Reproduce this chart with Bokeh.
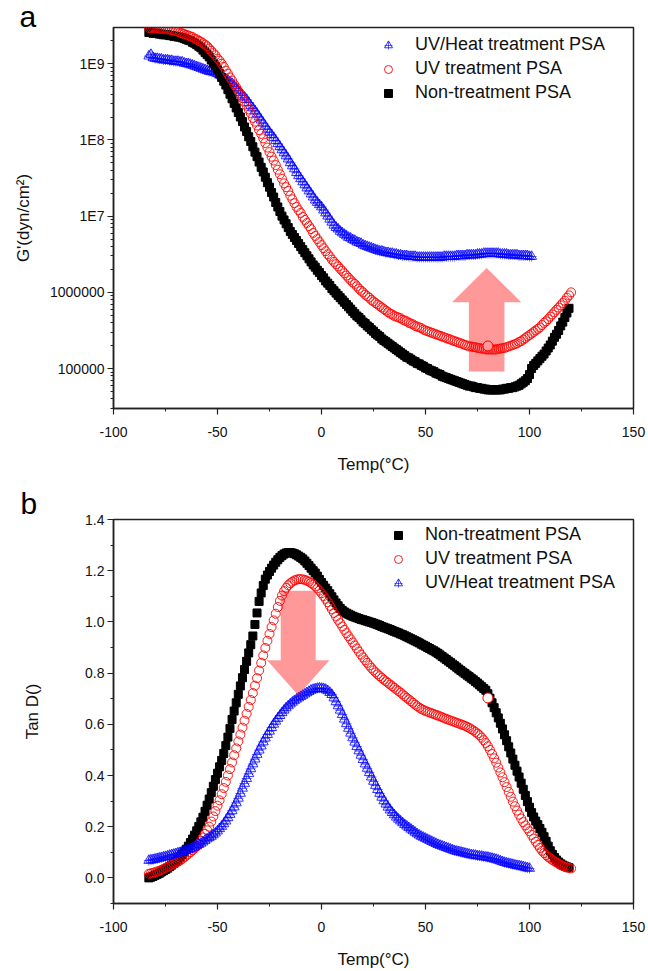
from bokeh.plotting import figure
from bokeh.layouts import column
from bokeh.models import (FixedTicker, Range1d, Legend, LegendItem,
                          NumeralTickFormatter)
from bokeh.embed import file_html
from bokeh.resources import INLINE

FONT = "Liberation Sans"

# ---------------- data: storage modulus G' (dyn/cm^2) ----------------
temp_black = list(range(-83, 120))
temp_red = list(range(-83, 121))
temp_blue_g = list(range(-83, 102))
temp_blue_tan = list(range(-83, 101))

gp_non = [
    2.57e9, 2.57e9, 2.51e9, 2.51e9, 2.51e9, 2.45e9, 2.45e9, 2.40e9, 2.40e9, 2.40e9,
    2.34e9, 2.34e9, 2.29e9, 2.29e9, 2.24e9, 2.24e9, 2.19e9, 2.14e9, 2.09e9, 2.04e9,
    2.00e9, 1.91e9, 1.86e9, 1.78e9, 1.70e9, 1.62e9, 1.51e9, 1.41e9, 1.32e9, 1.23e9,
    1.12e9, 1.02e9, 9.33e8, 8.32e8, 7.41e8, 6.61e8, 5.89e8, 5.25e8, 4.57e8, 3.98e8,
    3.47e8, 3.02e8, 2.63e8, 2.29e8, 2.00e8, 1.74e8, 1.48e8, 1.29e8, 1.10e8, 9.55e7,
    8.13e7, 6.92e7, 6.03e7, 5.13e7, 4.37e7, 3.80e7, 3.24e7, 2.75e7, 2.40e7, 2.04e7,
    1.78e7, 1.51e7, 1.32e7, 1.15e7, 1.00e7, 8.91e6, 7.94e6, 7.08e6, 6.31e6, 5.75e6,
    5.25e6, 4.79e6, 4.37e6, 3.98e6, 3.63e6, 3.31e6, 3.02e6, 2.75e6, 2.51e6, 2.29e6,
    2.14e6, 1.95e6, 1.82e6, 1.66e6, 1.55e6, 1.41e6, 1.32e6, 1.23e6, 1.12e6, 1.05e6,
    9.77e5, 9.12e5, 8.51e5, 7.94e5, 7.41e5, 6.92e5, 6.46e5, 6.03e5, 5.62e5, 5.25e5,
    4.90e5, 4.68e5, 4.37e5, 4.07e5, 3.89e5, 3.63e5, 3.47e5, 3.24e5, 3.09e5, 2.88e5,
    2.75e5, 2.63e5, 2.45e5, 2.34e5, 2.24e5, 2.14e5, 2.04e5, 1.95e5, 1.86e5, 1.78e5,
    1.70e5, 1.62e5, 1.55e5, 1.48e5, 1.41e5, 1.38e5, 1.32e5, 1.26e5, 1.23e5, 1.17e5,
    1.15e5, 1.10e5, 1.07e5, 1.02e5, 1.00e5, 9.55e4, 9.33e4, 9.12e4, 8.71e4, 8.51e4,
    8.32e4, 7.94e4, 7.76e4, 7.59e4, 7.41e4, 7.24e4, 7.08e4, 6.92e4, 6.76e4, 6.61e4,
    6.46e4, 6.31e4, 6.17e4, 6.03e4, 5.89e4, 5.89e4, 5.75e4, 5.62e4, 5.62e4, 5.50e4,
    5.50e4, 5.37e4, 5.37e4, 5.25e4, 5.25e4, 5.25e4, 5.25e4, 5.25e4, 5.25e4, 5.25e4,
    5.37e4, 5.37e4, 5.50e4, 5.50e4, 5.62e4, 5.62e4, 5.75e4, 5.89e4, 6.03e4, 6.31e4,
    6.61e4, 6.92e4, 7.41e4, 8.32e4, 1.00e5, 1.10e5, 1.17e5, 1.26e5, 1.35e5, 1.45e5,
    1.55e5, 1.70e5, 1.86e5, 2.04e5, 2.29e5, 2.57e5, 2.82e5, 3.16e5, 3.63e5, 4.07e5,
    4.68e5, 5.37e5, 6.17e5,
]

gp_uv = [
    2.95e9, 2.95e9, 2.95e9, 2.95e9, 2.95e9, 2.88e9, 2.88e9, 2.88e9, 2.88e9, 2.82e9,
    2.82e9, 2.75e9, 2.75e9, 2.69e9, 2.63e9, 2.57e9, 2.51e9, 2.45e9, 2.40e9, 2.34e9,
    2.29e9, 2.24e9, 2.14e9, 2.09e9, 2.00e9, 1.95e9, 1.86e9, 1.78e9, 1.70e9, 1.58e9,
    1.48e9, 1.38e9, 1.29e9, 1.17e9, 1.10e9, 1.00e9, 9.12e8, 8.13e8, 7.41e8, 6.61e8,
    6.03e8, 5.37e8, 4.90e8, 4.37e8, 3.89e8, 3.55e8, 3.16e8, 2.82e8, 2.51e8, 2.24e8,
    1.95e8, 1.74e8, 1.55e8, 1.35e8, 1.20e8, 1.05e8, 9.12e7, 7.94e7, 6.92e7, 6.03e7,
    5.37e7, 4.68e7, 4.07e7, 3.55e7, 3.09e7, 2.69e7, 2.40e7, 2.14e7, 1.86e7, 1.66e7,
    1.48e7, 1.32e7, 1.20e7, 1.10e7, 9.77e6, 8.91e6, 8.13e6, 7.41e6, 6.76e6, 6.03e6,
    5.50e6, 5.01e6, 4.57e6, 4.17e6, 3.80e6, 3.47e6, 3.16e6, 2.95e6, 2.69e6, 2.51e6,
    2.34e6, 2.19e6, 2.04e6, 1.91e6, 1.78e6, 1.66e6, 1.55e6, 1.45e6, 1.35e6, 1.29e6,
    1.20e6, 1.12e6, 1.05e6, 1.00e6, 9.33e5, 8.91e5, 8.51e5, 7.94e5, 7.59e5, 7.24e5,
    6.92e5, 6.61e5, 6.31e5, 6.03e5, 5.75e5, 5.50e5, 5.25e5, 5.13e5, 4.90e5, 4.79e5,
    4.68e5, 4.57e5, 4.37e5, 4.27e5, 4.17e5, 3.98e5, 3.89e5, 3.80e5, 3.63e5, 3.55e5,
    3.47e5, 3.39e5, 3.24e5, 3.16e5, 3.09e5, 3.02e5, 2.95e5, 2.88e5, 2.82e5, 2.75e5,
    2.69e5, 2.63e5, 2.57e5, 2.51e5, 2.45e5, 2.40e5, 2.34e5, 2.29e5, 2.24e5, 2.19e5,
    2.14e5, 2.09e5, 2.04e5, 2.00e5, 1.95e5, 1.95e5, 1.91e5, 1.91e5, 1.86e5, 1.86e5,
    1.82e5, 1.82e5, 1.78e5, 1.78e5, 1.78e5, 1.78e5, 1.78e5, 1.78e5, 1.82e5, 1.82e5,
    1.86e5, 1.86e5, 1.91e5, 1.95e5, 2.00e5, 2.04e5, 2.09e5, 2.14e5, 2.24e5, 2.29e5,
    2.40e5, 2.51e5, 2.63e5, 2.75e5, 2.88e5, 3.02e5, 3.16e5, 3.31e5, 3.47e5, 3.72e5,
    3.98e5, 4.17e5, 4.47e5, 4.79e5, 5.13e5, 5.50e5, 5.89e5, 6.31e5, 6.76e5, 7.24e5,
    7.76e5, 8.51e5, 9.12e5, 1.00e6,
]

gp_uvheat = [
    1.26e9, 1.32e9, 1.20e9, 1.17e9, 1.17e9, 1.15e9, 1.15e9, 1.12e9, 1.12e9, 1.12e9,
    1.10e9, 1.10e9, 1.07e9, 1.07e9, 1.07e9, 1.05e9, 1.05e9, 1.02e9, 1.00e9, 1.00e9,
    9.77e8, 9.55e8, 9.33e8, 9.12e8, 8.91e8, 8.71e8, 8.51e8, 8.32e8, 8.13e8, 7.94e8,
    7.94e8, 7.76e8, 7.59e8, 7.41e8, 7.08e8, 6.92e8, 6.61e8, 6.31e8, 6.03e8, 5.75e8,
    5.50e8, 5.13e8, 4.79e8, 4.47e8, 4.17e8, 3.89e8, 3.63e8, 3.39e8, 3.09e8, 2.82e8,
    2.63e8, 2.40e8, 2.19e8, 2.00e8, 1.82e8, 1.66e8, 1.51e8, 1.38e8, 1.26e8, 1.17e8,
    1.07e8, 9.77e7, 8.91e7, 8.13e7, 7.41e7, 6.76e7, 6.17e7, 5.62e7, 5.01e7, 4.57e7,
    4.17e7, 3.72e7, 3.39e7, 3.09e7, 2.82e7, 2.57e7, 2.34e7, 2.14e7, 1.95e7, 1.78e7,
    1.62e7, 1.51e7, 1.41e7, 1.32e7, 1.20e7, 1.10e7, 1.00e7, 9.12e6, 8.32e6, 7.59e6,
    7.08e6, 6.76e6, 6.31e6, 6.03e6, 5.75e6, 5.50e6, 5.25e6, 5.13e6, 4.90e6, 4.79e6,
    4.57e6, 4.47e6, 4.37e6, 4.17e6, 4.07e6, 3.98e6, 3.89e6, 3.80e6, 3.72e6, 3.63e6,
    3.55e6, 3.47e6, 3.47e6, 3.39e6, 3.31e6, 3.31e6, 3.24e6, 3.24e6, 3.16e6, 3.16e6,
    3.09e6, 3.09e6, 3.02e6, 3.02e6, 3.02e6, 2.95e6, 2.95e6, 2.95e6, 2.95e6, 2.88e6,
    2.88e6, 2.88e6, 2.88e6, 2.88e6, 2.88e6, 2.88e6, 2.88e6, 2.88e6, 2.88e6, 2.88e6,
    2.88e6, 2.88e6, 2.95e6, 2.95e6, 2.95e6, 2.95e6, 2.95e6, 2.95e6, 3.02e6, 3.02e6,
    3.02e6, 3.02e6, 3.02e6, 3.09e6, 3.09e6, 3.09e6, 3.09e6, 3.09e6, 3.16e6, 3.16e6,
    3.16e6, 3.24e6, 3.24e6, 3.24e6, 3.24e6, 3.24e6, 3.24e6, 3.24e6, 3.24e6, 3.16e6,
    3.16e6, 3.16e6, 3.16e6, 3.09e6, 3.09e6, 3.09e6, 3.09e6, 3.09e6, 3.02e6, 3.02e6,
    3.02e6, 3.02e6, 3.02e6, 2.95e6, 2.95e6,
]

# ---------------- data: tan delta ----------------
tan_non = [
    0.000, 0.003, 0.006, 0.010, 0.014, 0.018, 0.023, 0.028, 0.033, 0.038,
    0.044, 0.050, 0.057, 0.064, 0.072, 0.081, 0.091, 0.101, 0.112, 0.124,
    0.138, 0.152, 0.167, 0.184, 0.201, 0.219, 0.237, 0.260, 0.284, 0.308,
    0.333, 0.358, 0.384, 0.409, 0.434, 0.459, 0.486, 0.517, 0.550, 0.584,
    0.619, 0.652, 0.684, 0.717, 0.750, 0.782, 0.814, 0.846, 0.879, 0.911,
    0.945, 0.990, 1.035, 1.080, 1.113, 1.142, 1.167, 1.183, 1.197, 1.210,
    1.222, 1.233, 1.243, 1.252, 1.259, 1.265, 1.269, 1.271, 1.271, 1.269,
    1.266, 1.262, 1.257, 1.252, 1.246, 1.238, 1.229, 1.220, 1.210, 1.200,
    1.191, 1.179, 1.166, 1.154, 1.143, 1.132, 1.122, 1.110, 1.098, 1.086,
    1.074, 1.063, 1.053, 1.045, 1.039, 1.034, 1.030, 1.026, 1.022, 1.019,
    1.016, 1.013, 1.010, 1.008, 1.005, 1.003, 1.000, 0.998, 0.995, 0.992,
    0.989, 0.986, 0.982, 0.979, 0.976, 0.973, 0.970, 0.966, 0.963, 0.960,
    0.957, 0.953, 0.950, 0.946, 0.942, 0.938, 0.934, 0.930, 0.926, 0.922,
    0.918, 0.913, 0.909, 0.905, 0.900, 0.896, 0.891, 0.887, 0.882, 0.877,
    0.871, 0.865, 0.859, 0.853, 0.847, 0.841, 0.835, 0.829, 0.823, 0.816,
    0.810, 0.804, 0.798, 0.792, 0.786, 0.780, 0.774, 0.767, 0.761, 0.754,
    0.747, 0.740, 0.733, 0.719, 0.702, 0.684, 0.665, 0.645, 0.625, 0.604,
    0.582, 0.559, 0.536, 0.512, 0.488, 0.464, 0.440, 0.417, 0.394, 0.370,
    0.346, 0.322, 0.298, 0.276, 0.255, 0.238, 0.222, 0.208, 0.193, 0.178,
    0.161, 0.143, 0.124, 0.106, 0.092, 0.080, 0.070, 0.062, 0.055, 0.050,
    0.046, 0.043, 0.040,
]

tan_uv = [
    0.016, 0.018, 0.020, 0.022, 0.025, 0.028, 0.031, 0.035, 0.039, 0.043,
    0.047, 0.051, 0.055, 0.059, 0.063, 0.068, 0.074, 0.080, 0.087, 0.094,
    0.101, 0.108, 0.115, 0.123, 0.133, 0.145, 0.158, 0.172, 0.186, 0.200,
    0.220, 0.240, 0.261, 0.282, 0.303, 0.327, 0.351, 0.375, 0.400, 0.425,
    0.451, 0.479, 0.506, 0.533, 0.560, 0.587, 0.614, 0.641, 0.668, 0.695,
    0.722, 0.751, 0.780, 0.810, 0.840, 0.869, 0.898, 0.926, 0.953, 0.980,
    1.006, 1.032, 1.058, 1.082, 1.103, 1.120, 1.133, 1.143, 1.151, 1.157,
    1.162, 1.165, 1.167, 1.167, 1.166, 1.164, 1.161, 1.157, 1.152, 1.146,
    1.139, 1.131, 1.122, 1.112, 1.101, 1.090, 1.077, 1.063, 1.049, 1.035,
    1.021, 1.008, 0.995, 0.982, 0.969, 0.956, 0.944, 0.932, 0.920, 0.908,
    0.896, 0.884, 0.872, 0.861, 0.850, 0.840, 0.830, 0.820, 0.811, 0.803,
    0.795, 0.788, 0.781, 0.774, 0.768, 0.762, 0.755, 0.749, 0.743, 0.736,
    0.730, 0.724, 0.717, 0.710, 0.703, 0.697, 0.690, 0.684, 0.677, 0.671,
    0.665, 0.660, 0.656, 0.652, 0.649, 0.646, 0.643, 0.640, 0.637, 0.634,
    0.631, 0.628, 0.624, 0.621, 0.618, 0.615, 0.612, 0.609, 0.606, 0.603,
    0.600, 0.597, 0.594, 0.590, 0.586, 0.581, 0.576, 0.570, 0.564, 0.557,
    0.548, 0.538, 0.527, 0.514, 0.500, 0.484, 0.467, 0.450, 0.431, 0.412,
    0.393, 0.374, 0.355, 0.336, 0.317, 0.298, 0.280, 0.263, 0.247, 0.232,
    0.218, 0.205, 0.193, 0.182, 0.168, 0.154, 0.141, 0.129, 0.117, 0.106,
    0.097, 0.089, 0.082, 0.076, 0.070, 0.065, 0.060, 0.055, 0.051, 0.047,
    0.044, 0.041, 0.039, 0.037,
]

tan_uvheat = [
    0.068, 0.070, 0.071, 0.073, 0.075, 0.077, 0.079, 0.081, 0.083, 0.085,
    0.088, 0.090, 0.092, 0.094, 0.097, 0.099, 0.102, 0.105, 0.108, 0.111,
    0.114, 0.117, 0.121, 0.125, 0.130, 0.135, 0.140, 0.146, 0.152, 0.157,
    0.162, 0.168, 0.175, 0.183, 0.192, 0.201, 0.211, 0.222, 0.235, 0.248,
    0.262, 0.277, 0.293, 0.311, 0.330, 0.350, 0.369, 0.388, 0.407, 0.426,
    0.445, 0.464, 0.482, 0.499, 0.515, 0.531, 0.546, 0.560, 0.573, 0.587,
    0.600, 0.612, 0.623, 0.634, 0.645, 0.655, 0.664, 0.672, 0.679, 0.686,
    0.692, 0.698, 0.703, 0.708, 0.713, 0.718, 0.723, 0.728, 0.733, 0.736,
    0.738, 0.740, 0.741, 0.740, 0.739, 0.736, 0.731, 0.724, 0.716, 0.703,
    0.688, 0.672, 0.655, 0.638, 0.620, 0.602, 0.584, 0.565, 0.547, 0.530,
    0.513, 0.496, 0.479, 0.462, 0.445, 0.428, 0.411, 0.394, 0.377, 0.361,
    0.345, 0.330, 0.315, 0.301, 0.288, 0.276, 0.265, 0.255, 0.246, 0.237,
    0.229, 0.222, 0.215, 0.208, 0.202, 0.196, 0.190, 0.184, 0.178, 0.172,
    0.167, 0.162, 0.158, 0.154, 0.150, 0.146, 0.142, 0.138, 0.134, 0.130,
    0.127, 0.124, 0.121, 0.118, 0.115, 0.112, 0.109, 0.106, 0.104, 0.102,
    0.100, 0.098, 0.096, 0.094, 0.092, 0.090, 0.089, 0.088, 0.086, 0.085,
    0.084, 0.082, 0.081, 0.080, 0.078, 0.076, 0.074, 0.072, 0.069, 0.066,
    0.063, 0.060, 0.058, 0.056, 0.054, 0.052, 0.050, 0.048, 0.047, 0.045,
    0.043, 0.041, 0.039, 0.037,
]

# single highlighted UV-treatment point visible in both panels
uv_mark_temp = [80]
uv_mark_gp = [1.98e5]
uv_mark_tan = [0.703]

# arrow annotations (data units)
up_arrow = dict(xc=79.4, shaft_half=8.55, head_half=16.65, tip=2.09e6, base=7.41e5, tail=9.12e4)
down_arrow = dict(xc=-11.2, shaft_half=8.4, head_half=15.0, tip=0.713, base=0.85, tail=1.122)

labels_top = ["UV/Heat treatment PSA", "UV treatment PSA", "Non-treatment PSA"]
labels_bot = ["Non-treatment PSA", "UV treatment PSA", "UV/Heat treatment PSA"]
x_ticks = [-100, -50, 0, 50, 100, 150]
x_tick_labels = {-100: "-100", -50: "-50", 0: "0", 50: "50", 100: "100", 150: "150"}


def arrow_patch(a):
    xc, s, h = a["xc"], a["shaft_half"], a["head_half"]
    xs = [xc - s, xc - s, xc - h, xc, xc + h, xc + s, xc + s]
    ys = [a["tail"], a["base"], a["base"], a["tip"], a["base"], a["base"], a["tail"]]
    return xs, ys


def style(p, letter, letter_offset, letter_standoff):
    p.grid.visible = False
    p.outline_line_color = "#222222"
    p.outline_line_width = 1.5
    p.background_fill_color = "white"
    p.border_fill_color = "white"
    for ax in (p.xaxis[0], p.yaxis[0]):
        ax.axis_line_width = 1.5
        ax.axis_line_color = "#222222"
        ax.major_tick_line_color = "#222222"
        ax.minor_tick_line_color = "#222222"
        ax.major_tick_line_width = 1.2
        ax.minor_tick_line_width = 1.0
        ax.major_tick_in = 0
        ax.major_tick_out = 6
        ax.minor_tick_in = 0
        ax.minor_tick_out = 3
        ax.major_label_text_font = FONT
        ax.major_label_text_font_size = "14px"
        ax.major_label_text_color = "#111111"
        ax.axis_label_text_font = FONT
        ax.axis_label_text_font_size = "17px"
        ax.axis_label_text_font_style = "normal"
        ax.axis_label_text_color = "#111111"
    p.xaxis.major_label_standoff = 12
    p.yaxis.major_label_standoff = 3
    p.xaxis.ticker = FixedTicker(ticks=x_ticks, minor_ticks=[-75, -25, 25, 75, 125])
    p.xaxis.major_label_overrides = x_tick_labels
    p.title.text = letter
    p.title.text_font = FONT
    p.title.text_font_size = "30px"
    p.title.text_font_style = "normal"
    p.title.text_color = "black"
    p.title.align = "left"
    p.title.offset = letter_offset
    p.title.standoff = letter_standoff


def make_legend(items, loc):
    lg = Legend(items=items, location=loc)
    lg.padding = 0
    lg.margin = 0
    lg.spacing = 3
    lg.glyph_width = 20
    lg.glyph_height = 20
    lg.label_height = 20
    lg.label_standoff = 17
    lg.label_text_font = FONT
    lg.label_text_font_size = "18px"
    lg.label_text_color = "#111111"
    lg.border_line_color = None
    lg.background_fill_alpha = 0
    return lg


# ---------------- panel a: G' ----------------
p1 = figure(width=648, height=485, x_range=Range1d(-100, 150),
            y_range=Range1d(2.99e4, 2.99e9), y_axis_type="log",
            output_backend="svg", toolbar_location=None,
            min_border_left=113, min_border_right=15,
            min_border_top=27, min_border_bottom=77)
style(p1, "a", -94, -11)
p1.yaxis.ticker = FixedTicker(ticks=[1e5, 1e6, 1e7, 1e8, 1e9],
                              minor_ticks=[k * 10.0 ** e for e in range(4, 10) for k in range(2, 10)])
p1.yaxis.major_label_overrides = {1e5: "100000", 1e6: "1000000", 1e7: "1E7",
                                  1e8: "1E8", 1e9: "1E9"}
p1.xaxis.axis_label = "Temp(\u00b0C)"
p1.yaxis.axis_label = "G'(dyn/cm\u00b2)"
p1.xaxis.axis_label_standoff = 15
p1.yaxis.axis_label_standoff = 14

b_tri = p1.scatter(temp_blue_g, gp_uvheat, marker="triangle", size=10,
                   line_color="#0000ff", fill_color=None, line_width=0.8)
b_crs = p1.scatter(temp_blue_g, gp_uvheat, marker="cross", size=10,
                   line_color="#0000ff", line_width=0.6)
k_sq = p1.scatter(temp_black, gp_non, marker="square", size=8,
                  line_color="black", fill_color="black")
r_ci = p1.scatter(temp_red, gp_uv, marker="circle", size=9,
                  line_color="#ff0000", fill_color=None, line_width=0.9)
p1.scatter(uv_mark_temp, uv_mark_gp, marker="circle", size=10,
           line_color="#ff0000", fill_color="white", line_width=1)
ax_, ay_ = arrow_patch(up_arrow)
p1.patch(ax_, ay_, fill_color="#ff0000", fill_alpha=0.4, line_color=None)

lg1 = make_legend([LegendItem(label=labels_top[0], renderers=[b_tri, b_crs]),
                   LegendItem(label=labels_top[1], renderers=[r_ci]),
                   LegendItem(label=labels_top[2], renderers=[k_sq])], (265, 305))
p1.add_layout(lg1)

# ---------------- panel b: tan delta ----------------
p2 = figure(width=648, height=486, x_range=Range1d(-100, 150),
            y_range=Range1d(-0.1, 1.4),
            output_backend="svg", toolbar_location=None,
            min_border_left=112, min_border_right=15,
            min_border_top=32, min_border_bottom=68)
style(p2, "b", -93, -1)
p2.yaxis.ticker = FixedTicker(ticks=[0.0, 0.2, 0.4, 0.6, 0.8, 1.0, 1.2, 1.4],
                              minor_ticks=[-0.1, 0.1, 0.3, 0.5, 0.7, 0.9, 1.1, 1.3])
p2.yaxis.formatter = NumeralTickFormatter(format="0.0")
p2.xaxis.axis_label = "Temp(\u00b0C)"
p2.yaxis.axis_label = "Tan D()"
p2.xaxis.axis_label_standoff = 15
p2.yaxis.axis_label_standoff = 40

k2 = p2.scatter(temp_black, tan_non, marker="square", size=8,
                line_color="black", fill_color="black")
r2 = p2.scatter(temp_red, tan_uv, marker="circle", size=9,
                line_color="#ff0000", fill_color=None, line_width=0.9)
b2t = p2.scatter(temp_blue_tan, tan_uvheat, marker="triangle", size=10,
                 line_color="#0000ff", fill_color=None, line_width=0.8)
b2c = p2.scatter(temp_blue_tan, tan_uvheat, marker="cross", size=10,
                 line_color="#0000ff", line_width=0.6)
p2.scatter(uv_mark_temp, uv_mark_tan, marker="circle", size=10,
           line_color="#ff0000", fill_color="white", line_width=1)
dx_, dy_ = arrow_patch(down_arrow)
p2.patch(dx_, dy_, fill_color="#ff0000", fill_alpha=0.4, line_color=None)

lg2 = make_legend([LegendItem(label=labels_bot[0], renderers=[k2]),
                   LegendItem(label=labels_bot[1], renderers=[r2]),
                   LegendItem(label=labels_bot[2], renderers=[b2t, b2c])], (275, 310))
p2.add_layout(lg2)

layout = column(p1, p2, spacing=0)
open("out.html", "w").write(file_html(layout, INLINE))
